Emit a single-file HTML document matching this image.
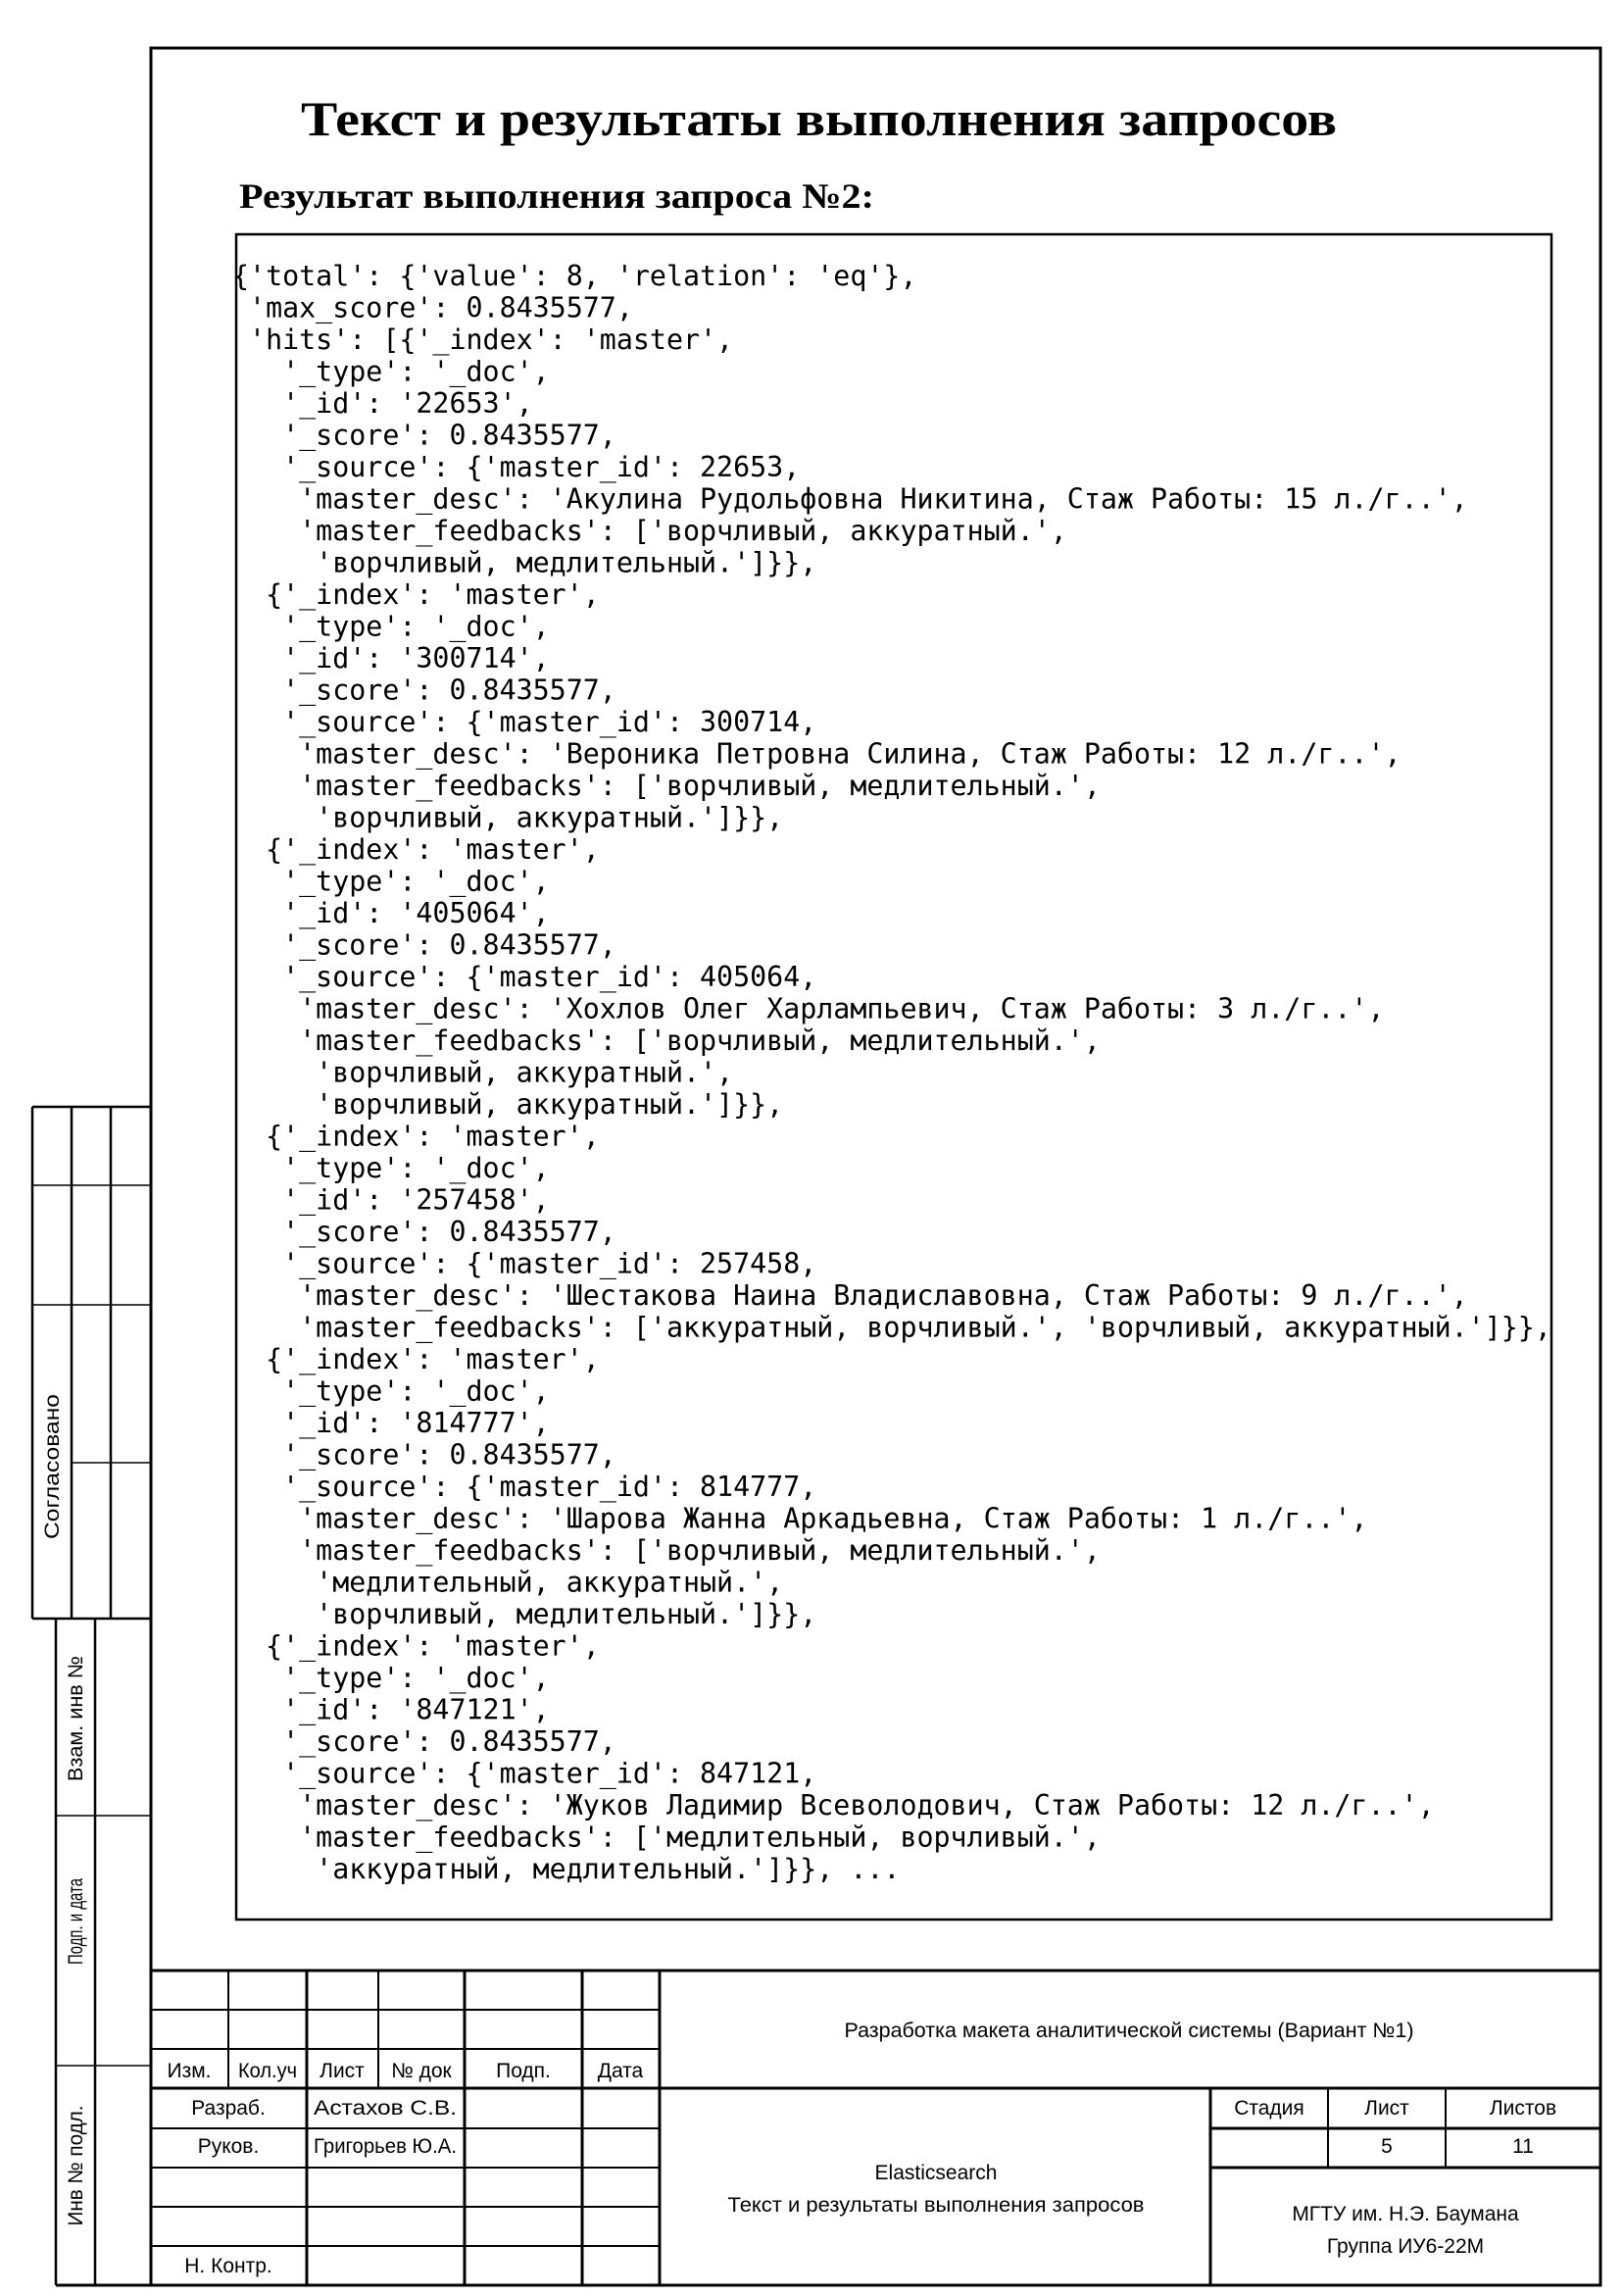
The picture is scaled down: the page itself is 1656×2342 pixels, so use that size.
<!DOCTYPE html>
<html><head><meta charset="utf-8"><style>
html,body{margin:0;padding:0;background:#fff}
svg{display:block}
.m{font-family:"DejaVu Sans Mono","Liberation Mono",monospace;font-size:28.3px;fill:#000}
.m text{white-space:pre}
.g{font-family:"Liberation Sans","DejaVu Sans",sans-serif;font-size:21px;fill:#000}
</style></head><body>
<svg width="1656" height="2342" viewBox="0 0 1656 2342" xmlns="http://www.w3.org/2000/svg">
<g stroke="#000" fill="none">
<rect x="154" y="49" width="1479" height="2282" stroke-width="3"/>
<rect x="241" y="239" width="1342" height="1719" stroke-width="2.5"/>
<g stroke-width="2.5">
<line x1="33" y1="1129" x2="154" y2="1129"/>
<line x1="33" y1="1209" x2="154" y2="1209" stroke-width="1.5"/>
<line x1="33" y1="1331" x2="154" y2="1331" stroke-width="1.5"/>
<line x1="73" y1="1492" x2="154" y2="1492" stroke-width="1.5"/>
<line x1="33" y1="1651" x2="154" y2="1651"/>
<line x1="33" y1="1129" x2="33" y2="1651"/>
<line x1="73" y1="1129" x2="73" y2="1651"/>
<line x1="113" y1="1129" x2="113" y2="1651"/>
<line x1="57" y1="1651" x2="57" y2="2331"/>
<line x1="97" y1="1651" x2="97" y2="2331"/>
<line x1="57" y1="1852" x2="154" y2="1852" stroke-width="1.5"/>
<line x1="57" y1="2107" x2="154" y2="2107" stroke-width="1.5"/>
<line x1="57" y1="2331" x2="154" y2="2331" stroke-width="3"/>
</g>
<g stroke-width="3">
<line x1="154" y1="2010" x2="1633" y2="2010"/>
<line x1="154" y1="2130" x2="1633" y2="2130"/>
<line x1="673" y1="2010" x2="673" y2="2331"/>
<line x1="1235" y1="2130" x2="1235" y2="2331"/>
<line x1="1235" y1="2171" x2="1633" y2="2171"/>
<line x1="1235" y1="2211" x2="1633" y2="2211"/>
<line x1="313" y1="2010" x2="313" y2="2331"/>
<line x1="474" y1="2010" x2="474" y2="2331"/>
<line x1="594" y1="2010" x2="594" y2="2331"/>
<line x1="1355" y1="2130" x2="1355" y2="2211" stroke-width="2"/>
<line x1="1475" y1="2130" x2="1475" y2="2211" stroke-width="2"/>
</g>
<g stroke-width="2">
<line x1="154" y1="2050" x2="673" y2="2050"/>
<line x1="154" y1="2090" x2="673" y2="2090"/>
<line x1="154" y1="2171" x2="673" y2="2171"/>
<line x1="154" y1="2211" x2="673" y2="2211"/>
<line x1="154" y1="2251" x2="673" y2="2251"/>
<line x1="154" y1="2291" x2="673" y2="2291"/>
<line x1="233" y1="2010" x2="233" y2="2130"/>
<line x1="386" y1="2010" x2="386" y2="2130"/>
</g>
</g>

<text x="307" y="138" textLength="1057" lengthAdjust="spacingAndGlyphs" style="font-family:'Liberation Serif',serif;font-weight:bold;font-size:50px">Текст и результаты выполнения запросов</text>
<text x="244" y="212" textLength="648" lengthAdjust="spacingAndGlyphs" style="font-family:'Liberation Serif',serif;font-weight:bold;font-size:36px">Результат выполнения запроса №2:</text>

<g class="m">
<text x="237" y="291">{'total': {'value': 8, 'relation': 'eq'},</text>
<text x="237" y="323.5"> 'max_score': 0.8435577,</text>
<text x="237" y="356"> 'hits': [{'_index': 'master',</text>
<text x="237" y="388.5">   '_type': '_doc',</text>
<text x="237" y="421">   '_id': '22653',</text>
<text x="237" y="453.5">   '_score': 0.8435577,</text>
<text x="237" y="486">   '_source': {'master_id': 22653,</text>
<text x="237" y="518.5">    'master_desc': 'Акулина Рудольфовна Никитина, Стаж Работы: 15 л./г..',</text>
<text x="237" y="551">    'master_feedbacks': ['ворчливый, аккуратный.',</text>
<text x="237" y="583.5">     'ворчливый, медлительный.']}},</text>
<text x="237" y="616">  {'_index': 'master',</text>
<text x="237" y="648.5">   '_type': '_doc',</text>
<text x="237" y="681">   '_id': '300714',</text>
<text x="237" y="713.5">   '_score': 0.8435577,</text>
<text x="237" y="746">   '_source': {'master_id': 300714,</text>
<text x="237" y="778.5">    'master_desc': 'Вероника Петровна Силина, Стаж Работы: 12 л./г..',</text>
<text x="237" y="811">    'master_feedbacks': ['ворчливый, медлительный.',</text>
<text x="237" y="843.5">     'ворчливый, аккуратный.']}},</text>
<text x="237" y="876">  {'_index': 'master',</text>
<text x="237" y="908.5">   '_type': '_doc',</text>
<text x="237" y="941">   '_id': '405064',</text>
<text x="237" y="973.5">   '_score': 0.8435577,</text>
<text x="237" y="1006">   '_source': {'master_id': 405064,</text>
<text x="237" y="1038.5">    'master_desc': 'Хохлов Олег Харлампьевич, Стаж Работы: 3 л./г..',</text>
<text x="237" y="1071">    'master_feedbacks': ['ворчливый, медлительный.',</text>
<text x="237" y="1103.5">     'ворчливый, аккуратный.',</text>
<text x="237" y="1136">     'ворчливый, аккуратный.']}},</text>
<text x="237" y="1168.5">  {'_index': 'master',</text>
<text x="237" y="1201">   '_type': '_doc',</text>
<text x="237" y="1233.5">   '_id': '257458',</text>
<text x="237" y="1266">   '_score': 0.8435577,</text>
<text x="237" y="1298.5">   '_source': {'master_id': 257458,</text>
<text x="237" y="1331">    'master_desc': 'Шестакова Наина Владиславовна, Стаж Работы: 9 л./г..',</text>
<text x="237" y="1363.5">    'master_feedbacks': ['аккуратный, ворчливый.', 'ворчливый, аккуратный.']}},</text>
<text x="237" y="1396">  {'_index': 'master',</text>
<text x="237" y="1428.5">   '_type': '_doc',</text>
<text x="237" y="1461">   '_id': '814777',</text>
<text x="237" y="1493.5">   '_score': 0.8435577,</text>
<text x="237" y="1526">   '_source': {'master_id': 814777,</text>
<text x="237" y="1558.5">    'master_desc': 'Шарова Жанна Аркадьевна, Стаж Работы: 1 л./г..',</text>
<text x="237" y="1591">    'master_feedbacks': ['ворчливый, медлительный.',</text>
<text x="237" y="1623.5">     'медлительный, аккуратный.',</text>
<text x="237" y="1656">     'ворчливый, медлительный.']}},</text>
<text x="237" y="1688.5">  {'_index': 'master',</text>
<text x="237" y="1721">   '_type': '_doc',</text>
<text x="237" y="1753.5">   '_id': '847121',</text>
<text x="237" y="1786">   '_score': 0.8435577,</text>
<text x="237" y="1818.5">   '_source': {'master_id': 847121,</text>
<text x="237" y="1851">    'master_desc': 'Жуков Ладимир Всеволодович, Стаж Работы: 12 л./г..',</text>
<text x="237" y="1883.5">    'master_feedbacks': ['медлительный, ворчливый.',</text>
<text x="237" y="1916">     'аккуратный, медлительный.']}}, ...</text>
</g>

<g class="g" text-anchor="middle">
<text x="1152" y="2078" textLength="581" lengthAdjust="spacingAndGlyphs">Разработка макета аналитической системы (Вариант №1)</text>
<text x="193" y="2119">Изм.</text>
<text x="273" y="2119" textLength="60" lengthAdjust="spacingAndGlyphs">Кол.уч</text>
<text x="349" y="2119">Лист</text>
<text x="430" y="2119">№ док</text>
<text x="534" y="2119">Подп.</text>
<text x="633" y="2119">Дата</text>
<text x="233" y="2157">Разраб.</text>
<text x="393" y="2157" textLength="146" lengthAdjust="spacingAndGlyphs">Астахов С.В.</text>
<text x="233" y="2196">Руков.</text>
<text x="393" y="2196" textLength="146" lengthAdjust="spacingAndGlyphs">Григорьев Ю.А.</text>
<text x="233" y="2318">Н. Контр.</text>
<text x="955" y="2223">Elasticsearch</text>
<text x="955" y="2256" textLength="425" lengthAdjust="spacingAndGlyphs">Текст и результаты выполнения запросов</text>
<text x="1295" y="2157">Стадия</text>
<text x="1415" y="2157">Лист</text>
<text x="1554" y="2157">Листов</text>
<text x="1415" y="2196">5</text>
<text x="1554" y="2196">11</text>
<text x="1434" y="2265">МГТУ им. Н.Э. Баумана</text>
<text x="1434" y="2298">Группа ИУ6-22М</text>
<text transform="translate(60,1496) rotate(-90)" textLength="148" lengthAdjust="spacingAndGlyphs">Согласовано</text>
<text transform="translate(84,1753) rotate(-90)" textLength="128" lengthAdjust="spacingAndGlyphs">Взам. инв №</text>
<text transform="translate(84,1960) rotate(-90)" textLength="88" lengthAdjust="spacingAndGlyphs">Подп. и дата</text>
<text transform="translate(84,2209) rotate(-90)" textLength="123" lengthAdjust="spacingAndGlyphs">Инв № подл.</text>
</g>
</svg>
</body></html>
